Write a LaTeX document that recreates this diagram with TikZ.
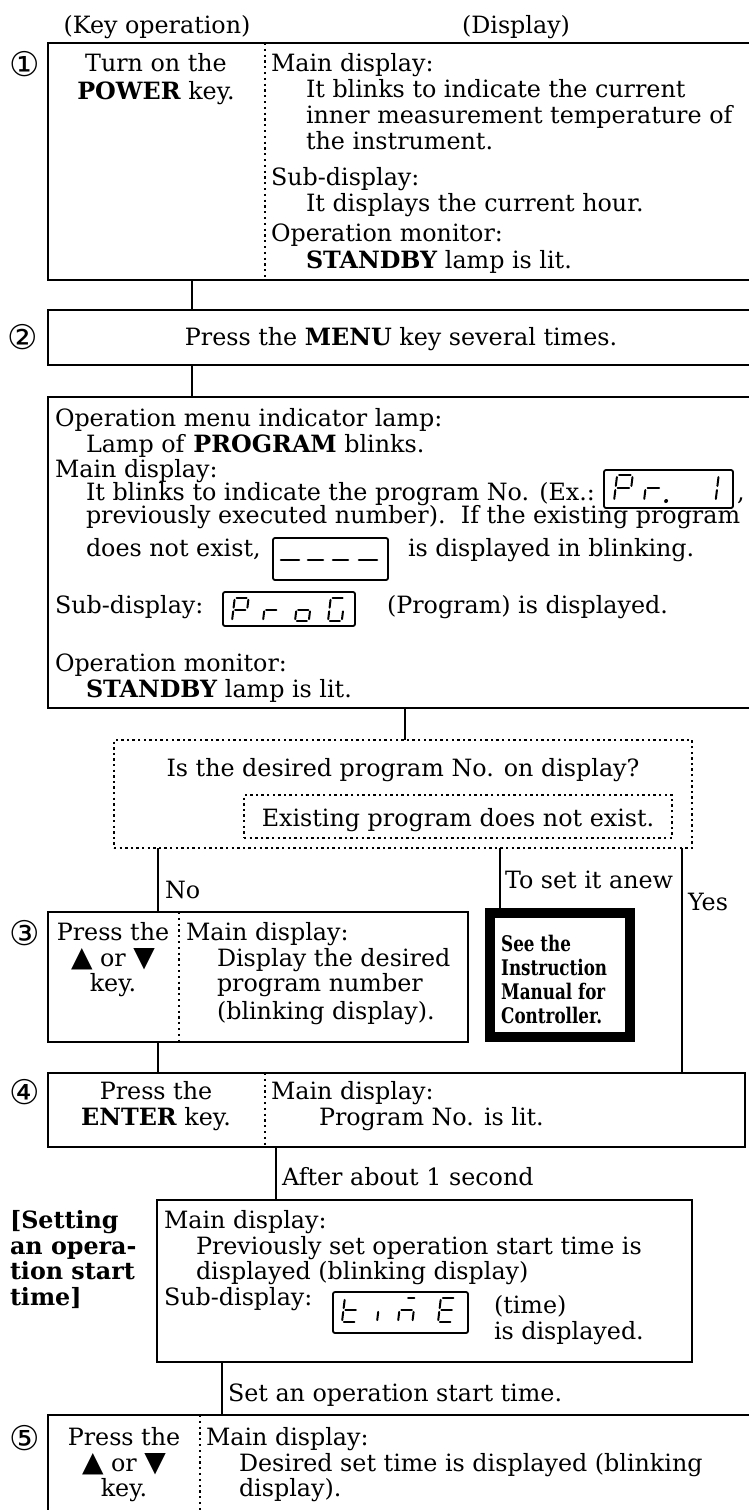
\documentclass[tikz,border=0pt]{standalone}
\usepackage{fontspec}
\setmainfont{DejaVu Serif}
\newfontfamily\symf{DejaVu Sans}
\newfontfamily\condf[FakeStretch=0.78]{DejaVu Serif}
\newcommand\msz{\fontsize{23.8}{25.5}\selectfont}
\newcommand\fls{\rule{0pt}{18pt}}
\newcommand\flsb{\rule{0pt}{16pt}}
\newcommand\tri{{\symf\fontsize{28}{28}\selectfont ▲}}
\newcommand\tridn{{\symf\fontsize{28}{28}\selectfont ▼}}
% seven-segment helpers (unit cell: width 0.6, height 1)
\newcommand\lsA{\draw[lcdseg] (0.08,1)--(0.52,1);}
\newcommand\lsB{\draw[lcdseg] (0.6,0.92)--(0.6,0.58);}
\newcommand\lsC{\draw[lcdseg] (0.6,0.42)--(0.6,0.08);}
\newcommand\lsD{\draw[lcdseg] (0.08,0)--(0.52,0);}
\newcommand\lsE{\draw[lcdseg] (0,0.42)--(0,0.08);}
\newcommand\lsF{\draw[lcdseg] (0,0.92)--(0,0.58);}
\newcommand\lsG{\draw[lcdseg] (0.08,0.5)--(0.52,0.5);}
\newcommand\lsP{\fill (0.85,0) circle[radius=2pt];}
\newcommand\lsBar{\draw[lcdseg] (0.3,1)--(0.56,1);}
\newcommand\lcdchar[4]{\begin{scope}[shift={(#1,#2)},x=#3pt,y=#3pt,xslant=0.12]#4\end{scope}}
\begin{document}
\begin{tikzpicture}[x=1pt,y=-1pt,
  box/.style={draw,line width=2.1pt,inner sep=0pt,outer sep=0pt,anchor=north west},
  dotbox/.style={draw,line width=2.6pt,dash pattern=on 2.4pt off 3.2pt,inner sep=0pt,outer sep=0pt,anchor=north west},
  thickbox/.style={draw,line width=10pt,inner sep=0pt,outer sep=0pt,anchor=north west},
  lcdbox/.style={draw,line width=1.8pt,rounded corners=2pt,inner sep=0pt,outer sep=0pt,anchor=north west},
  lcdseg/.style={line width=2pt,line cap=round},
  divider/.style={line width=2.2pt,dash pattern=on 2.2pt off 3.6pt},
  conn/.style={line width=1.8pt},
  txt/.style={font=\msz,inner sep=0pt,outer sep=0pt},
  num/.style={font=\symf\fontsize{34}{34}\selectfont,inner sep=0pt},
  small/.style={font=\condf\bfseries\fontsize{21.5}{24}\selectfont,inner sep=0pt,align=left,anchor=north west}]
\useasboundingbox (0,0) rectangle (749,1510);

% x positions of vertical lines
\coordinate (v1) at (265,0);
\coordinate (v3) at (179,0);
\coordinate (v5) at (200,0);
\coordinate (c1) at (192,0);
\coordinate (c2) at (405,0);
\coordinate (c3) at (158,0);
\coordinate (c4) at (500,0);
\coordinate (c5) at (682,0);
\coordinate (c6) at (276,0);
\coordinate (c7) at (222,0);

% header
\node[txt,anchor=base] (hk) at (157,33.5) {(Key operation)};
\node[txt,anchor=base] (hd) at (516,33.5) {(Display)};

% ---- step 1
\node[box,minimum width=712pt,minimum height=237pt] (s1) at (48,43) {};
\node[num] (n1) at (25,64) {①};
\node[txt,anchor=north,align=center] (k1) at (156,53.5) {\fls Turn on the\\[2pt]\textbf{POWER} key.};
\node[txt,anchor=north west,align=left] (d1a) at (271,53.5) {\fls Main display:\\[0.5pt]\hspace*{35pt}It blinks to indicate the current\\[0.5pt]\hspace*{35pt}inner measurement temperature of\\[0.5pt]\hspace*{35pt}the instrument.};
\node[txt,anchor=north west,align=left] (d1b) at (271,167.5) {\fls Sub-display:\\\hspace*{35pt}It displays the current hour.};
\node[txt,anchor=north west,align=left] (d1c) at (271,223.5) {\fls Operation monitor:\\[1pt]\hspace*{35pt}\textbf{STANDBY} lamp is lit.};

% ---- step 2
\node[box,minimum width=712pt,minimum height=55pt] (s2) at (48,310) {};
\node[num] (n2) at (23,337) {②};
\node[txt,anchor=base] (t2) at (401,345.5) {Press the \textbf{MENU} key several times.};

% ---- menu result box
\node[box,minimum width=712pt,minimum height=311pt] (s2b) at (48,397) {};
\node[txt,anchor=north west,align=left] (b1) at (55,408.5) {\fls Operation menu indicator lamp:\\\hspace*{31pt}Lamp of \textbf{PROGRAM} blinks.\\Main display:};
\node[txt,anchor=base west] (b4) at (86,500.5) {It blinks to indicate the program No. (Ex.:};
\node[lcdbox,minimum width=129pt,minimum height=38pt] (lcd1) at (604,470) {};
\node[txt,anchor=base west] (cm) at (737,500.5) {,};
\node[txt,anchor=base west] (b5) at (86,523.5) {previously executed number).\ \ If the existing program};
\node[txt,anchor=base west] (b6) at (86,556.5) {does not exist,};
\node[lcdbox,minimum width=115pt,minimum height=42pt] (lcd2) at (273,538) {};
\node[txt,anchor=base west] (b7) at (408,556.5) {is displayed in blinking.};
\node[txt,anchor=base west] (b8) at (55,613.5) {Sub-display:};
\node[lcdbox,minimum width=132pt,minimum height=34pt] (lcd3) at (223,592) {};
\node[txt,anchor=base west] (b9) at (387,613.5) {(Program) is displayed.};
\node[txt,anchor=north west,align=left] (b10) at (55,653.5) {\fls Operation monitor:\\\hspace*{31pt}\textbf{STANDBY} lamp is lit.};

% LCD glyphs
\lcdchar{614}{501}{26}{\lsA\lsB\lsE\lsF\lsG}
\lcdchar{644}{501}{26}{\lsE\lsG\lsP}
\lcdchar{700}{501}{26}{\lsB\lsC}
\draw[lcdseg,line width=2.6pt] (281,560)--(299,560);
\draw[lcdseg,line width=2.6pt] (308,560)--(323,560);
\draw[lcdseg,line width=2.6pt] (333,560)--(348,560);
\draw[lcdseg,line width=2.6pt] (359,560)--(377,560);
\lcdchar{232}{621}{23}{\lsA\lsB\lsE\lsF\lsG}
\lcdchar{263}{621}{23}{\lsE\lsG}
\lcdchar{295}{621}{23}{\lsC\lsD\lsE\lsG}
\lcdchar{328}{621}{23}{\lsA\lsC\lsD\lsE\lsF}

% ---- question box
\node[dotbox,minimum width=578pt,minimum height=108pt] (q) at (114,740) {};
\node[dotbox,minimum width=428pt,minimum height=43pt] (qi) at (244,795) {};
\node[txt,anchor=base] (qt) at (403,776.5) {Is the desired program No. on display?};
\node[txt,anchor=base] (qit) at (458,826.5) {Existing program does not exist.};

% ---- step 3
\node[box,minimum width=420pt,minimum height=130pt] (s3) at (48,912) {};
\node[num] (n3) at (25,933) {③};
\node[txt,anchor=north,align=center] (k3) at (113,922.5) {\fls Press the\\\tri{} or \tridn\\key.};
\node[txt,anchor=north west,align=left] (d3) at (186,922.5) {\fls Main display:\\\hspace*{31pt}Display the desired\\\hspace*{31pt}program number\\[2pt]\hspace*{31pt}(blinking display).};

% controller note
\node[thickbox,minimum width=140pt,minimum height=124pt] (ctl) at (490,913) {};
\node[small] (ctlt) at (501,935) {\flsb See the\\Instruction\\Manual for\\Controller.};

% ---- step 4
\node[box,minimum width=697pt,minimum height=74pt] (s4) at (48,1073) {};
\node[num] (n4) at (25,1092) {④};
\node[txt,anchor=north,align=center] (k4) at (156,1081.5) {\fls Press the\\\textbf{ENTER} key.};
\node[txt,anchor=north west,align=left] (d4) at (271,1081.5) {\fls Main display:\\\hspace*{48pt}Program No. is lit.};

% ---- start time box
\node[box,minimum width=535pt,minimum height=162pt] (tb) at (157,1200) {};
\node[txt,anchor=north west,align=left,font=\msz\bfseries] (tl) at (10,1210.5) {\fls [Setting\\an opera-\\tion start\\time]};
\node[txt,anchor=north west,align=left] (td) at (164,1210.5) {\fls Main display:\\\hspace*{32pt}Previously set operation start time is\\\hspace*{32pt}displayed (blinking display)};
\node[txt,anchor=base west] (ts) at (164,1305.5) {Sub-display:};
\node[lcdbox,minimum width=135pt,minimum height=41pt] (lcd4) at (333,1292) {};
\node[txt,anchor=north west,align=left] (tt) at (494,1295.5) {\fls(time)\\is displayed.};
\lcdchar{342}{1322}{24}{\lsD\lsE\lsF\lsG}
\lcdchar{377}{1322}{24}{\lsE}
\lcdchar{398}{1322}{24}{\lsBar\lsC\lsE\lsG}
\lcdchar{438}{1322}{24}{\lsA\lsD\lsE\lsF\lsG}

% ---- step 5
\node[box,minimum width=712pt,minimum height=130pt] (s5) at (48,1415) {};
\node[num] (n5) at (25,1438) {⑤};
\node[txt,anchor=north,align=center] (k5) at (124,1427.5) {\fls Press the\\\tri{} or \tridn\\key.};
\node[txt,anchor=north west,align=left] (d5) at (206,1427.5) {\fls Main display:\\\hspace*{33pt}Desired set time is displayed (blinking\\\hspace*{33pt}display).};

% dividers
\draw[divider] (s1.north -| v1) -- (s1.south -| v1);
\draw[divider] (s3.north -| v3) -- (s3.south -| v3);
\draw[divider] (s4.north -| v1) -- (s4.south -| v1);
\draw[divider] (s5.north -| v5) -- (s5.south -| v5);

% connectors
\draw[conn] (s1.south -| c1) -- (s2.north -| c1);
\draw[conn] (s2.south -| c1) -- (s2b.north -| c1);
\draw[conn] (s2b.south -| c2) -- (q.north -| c2);
\draw[conn] (q.south -| c3) -- (s3.north -| c3);
\draw[conn] (q.south -| c4) -- (ctl.north -| c4);
\draw[conn] (q.south -| c5) -- (s4.north -| c5);
\draw[conn] (s3.south -| c3) -- (s4.north -| c3);
\draw[conn] (s4.south -| c6) -- (tb.north -| c6);
\draw[conn] (tb.south -| c7) -- (s5.north -| c7);

% connector labels
\node[txt,anchor=base west] (lno) at (165,898.5) {No};
\node[txt,anchor=base west] (lnew) at (505,888.5) {To set it anew};
\node[txt,anchor=base west] (lyes) at (688,910.5) {Yes};
\node[txt,anchor=base west] (l1s) at (282,1185.5) {After about 1 second};
\node[txt,anchor=base west] (lset) at (228,1401.5) {Set an operation start time.};
\end{tikzpicture}
\end{document}
